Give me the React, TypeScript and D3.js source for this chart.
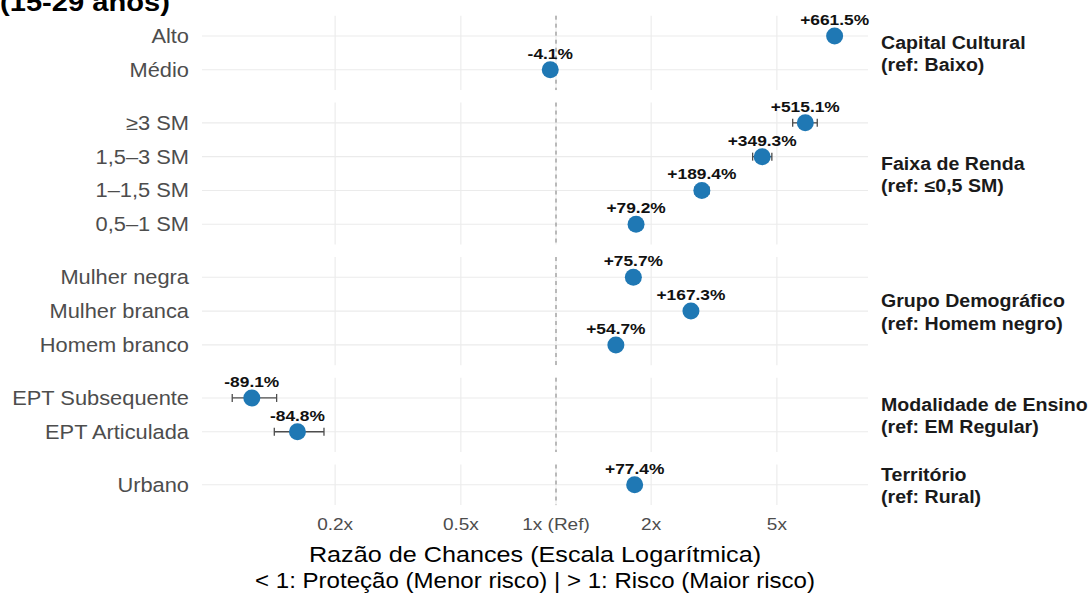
import React from "react";
import * as d3 from "d3";

// ---- Data -------------------------------------------------------------
const facetTitles = [
  "Capital Cultural",
  "Faixa de Renda",
  "Grupo Demográfico",
  "Modalidade de Ensino",
  "Território",
];
const facetRefs = [
  "(ref: Baixo)",
  "(ref: ≤0,5 SM)",
  "(ref: Homem negro)",
  "(ref: EM Regular)",
  "(ref: Rural)",
];

const categories = [
  "Alto",
  "Médio",
  "≥3 SM",
  "1,5–3 SM",
  "1–1,5 SM",
  "0,5–1 SM",
  "Mulher negra",
  "Mulher branca",
  "Homem branco",
  "EPT Subsequente",
  "EPT Articulada",
  "Urbano",
];
const categoryFacet = [0, 0, 1, 1, 1, 1, 2, 2, 2, 3, 3, 4];

// Percent change in odds relative to the reference category
const pctChange = [661.5, -4.1, 515.1, 349.3, 189.4, 79.2, 75.7, 167.3, 54.7, -89.1, -84.8, 77.4];
// 95% confidence interval for the odds ratio
const ciLower = [7.45, 0.935, 5.61, 4.19, 2.75, 1.72, 1.69, 2.57, 1.49, 0.0945, 0.1284, 1.7];
const ciUpper = [7.78, 0.985, 6.71, 4.82, 3.05, 1.87, 1.83, 2.78, 1.61, 0.1306, 0.1844, 1.85];

const tickValues = [0.2, 0.5, 1, 2, 5];
const tickLabels = ["0.2x", "0.5x", "1x (Ref)", "2x", "5x"];

const titleText = "(15-29 anos)";
const axisTitle = "Razão de Chances (Escala Logarítmica)";
const axisSubtitle = "< 1: Proteção (Menor risco)  |  > 1: Risco (Maior risco)";

// ---- Layout -----------------------------------------------------------
const W = 1091;
const H = 597;
const PANEL_LEFT = 202;
const PANEL_RIGHT = 868;
const PANEL_TOP = 15.7;
const ROW = 33.8;
const GAP = 12.5;
const SX = 1.12; // horizontal text stretch
const FONT = "'Liberation Sans', Arial, Helvetica, sans-serif";
const POINT_COLOR = "#1f78b4";

const oddsRatios = pctChange.map((p) => 1 + p / 100);

const x = d3.scaleLog().domain([0.07582, 9.712]).range([PANEL_LEFT, PANEL_RIGHT]);

type Panel = { top: number; bottom: number; y: d3.ScalePoint<string>; cats: string[] };

const panels: Panel[] = (() => {
  const out: Panel[] = [];
  let top = PANEL_TOP;
  facetTitles.forEach((_, fi) => {
    const cats = categories.filter((_, i) => categoryFacet[i] === fi);
    const h = (cats.length + 0.2) * ROW;
    const y = d3.scalePoint<string>().domain(cats).range([top, top + h]).padding(0.6);
    out.push({ top, bottom: top + h, y, cats });
    top += h + GAP;
  });
  return out;
})();

const fmtPct = (p: number) => (p > 0 ? "+" : "") + p.toFixed(1) + "%";

function T({
  x: tx,
  y: ty,
  children,
  anchor = "start",
  size,
  weight = "normal",
  fill = "#000",
}: {
  x: number;
  y: number;
  children: React.ReactNode;
  anchor?: string;
  size: number;
  weight?: string;
  fill?: string;
}) {
  return (
    <text
      transform={`translate(${tx},${ty}) scale(${SX},1)`}
      textAnchor={anchor}
      fontSize={size}
      fontWeight={weight}
      fontFamily={FONT}
      fill={fill}
    >
      {children}
    </text>
  );
}

export default function App() {
  const xMid = (PANEL_LEFT + PANEL_RIGHT) / 2;
  return (
    <svg
      width={W}
      height={H}
      viewBox={`0 0 ${W} ${H}`}
      style={{ position: "absolute", left: 0, top: 0, background: "#fff", display: "block" }}
    >
      <rect x={0} y={0} width={W} height={H} fill="#fff" />

      {/* title (second line) */}
      <T x={0} y={11} size={26} weight="bold" fill="#000">
        {titleText}
      </T>

      {panels.map((p, pi) => (
        <g key={pi}>
          {/* vertical grid */}
          {tickValues.map((t) => (
            <line
              key={t}
              x1={x(t)}
              x2={x(t)}
              y1={p.top}
              y2={p.bottom}
              stroke="#ebebeb"
              strokeWidth={1.1}
            />
          ))}
          {/* horizontal grid */}
          {p.cats.map((c) => (
            <line
              key={c}
              x1={PANEL_LEFT}
              x2={PANEL_RIGHT}
              y1={p.y(c)!}
              y2={p.y(c)!}
              stroke="#ebebeb"
              strokeWidth={1.1}
            />
          ))}
          {/* reference line at OR = 1 */}
          <line
            x1={x(1)}
            x2={x(1)}
            y1={p.top}
            y2={p.bottom}
            stroke="#7f7f7f"
            strokeWidth={1}
            strokeDasharray="4,4"
          />
          {/* category labels */}
          {p.cats.map((c) => (
            <T key={c} x={189} y={p.y(c)! + 7} anchor="end" size={19.5} fill="#4d4d4d">
              {c}
            </T>
          ))}
          {/* facet strip */}
          <T x={881} y={(p.top + p.bottom) / 2 - 4} size={17.5} weight="bold" fill="#1a1a1a">
            {facetTitles[pi]}
          </T>
          <T x={881} y={(p.top + p.bottom) / 2 + 18.5} size={17.5} weight="bold" fill="#1a1a1a">
            {facetRefs[pi]}
          </T>
        </g>
      ))}

      {/* estimates */}
      {categories.map((c, i) => {
        const p = panels[categoryFacet[i]];
        const cy = p.y(c)!;
        const cx = x(oddsRatios[i]);
        const lo = x(ciLower[i]);
        const hi = x(ciUpper[i]);
        return (
          <g key={c}>
            <line x1={lo} x2={hi} y1={cy} y2={cy} stroke="#4d4d4d" strokeWidth={1.3} />
            <line x1={lo} x2={lo} y1={cy - 4} y2={cy + 4} stroke="#4d4d4d" strokeWidth={1.3} />
            <line x1={hi} x2={hi} y1={cy - 4} y2={cy + 4} stroke="#4d4d4d" strokeWidth={1.3} />
            <circle cx={cx} cy={cy} r={8.5} fill={POINT_COLOR} />
            <T x={cx} y={cy - 11} anchor="middle" size={15.5} weight="bold" fill="#111">
              {fmtPct(pctChange[i])}
            </T>
          </g>
        );
      })}

      {/* x axis tick labels */}
      {tickValues.map((t, i) => (
        <T key={t} x={x(t)} y={530} anchor="middle" size={17} fill="#4d4d4d">
          {tickLabels[i]}
        </T>
      ))}

      {/* x axis titles */}
      <T x={xMid} y={562} anchor="middle" size={22.5} fill="#000">
        {axisTitle}
      </T>
      <T x={xMid} y={588} anchor="middle" size={21.5} fill="#000">
        {axisSubtitle}
      </T>
    </svg>
  );
}
